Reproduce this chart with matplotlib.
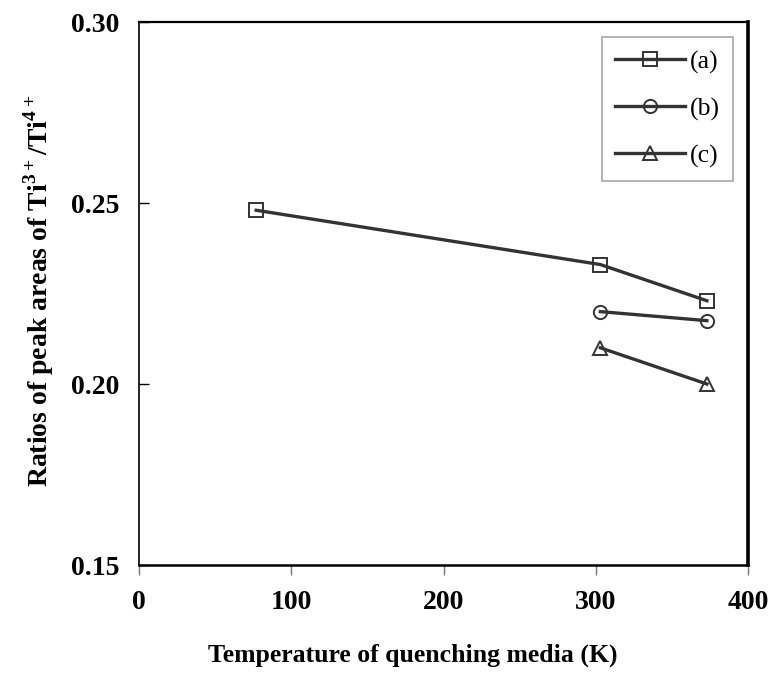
import numpy as np
import matplotlib
matplotlib.use("Agg")
import matplotlib.pyplot as plt

plt.rcParams['font.family'] = ['Liberation Serif', 'DejaVu Serif']
plt.rcParams['mathtext.fontset'] = 'custom'
plt.rcParams['mathtext.rm'] = 'Liberation Serif'
plt.rcParams['mathtext.bf'] = 'Liberation Serif:bold'

# data
temp_a = [77, 303, 373]
ratio_a = [0.248, 0.233, 0.223]
temp_b = [303, 373]
ratio_b = [0.220, 0.2175]
temp_c = [303, 373]
ratio_c = [0.210, 0.200]
labels = ["(a)", "(b)", "(c)"]
markers = ["s", "o", "^"]

fig = plt.figure(figsize=(7.73, 6.77), dpi=100)
ax = fig.add_axes([0.1798, 0.1654, 0.7879, 0.8021])

col = "#333333"
for xs, ys, lab, m in zip([temp_a, temp_b, temp_c], [ratio_a, ratio_b, ratio_c], labels, markers):
    ax.plot(xs, ys, color=col, lw=2.4, marker=m, ms=9.5, mfc="none",
            mec=col, mew=1.4, label=lab)

ax.set_xlim(0, 400)
ax.set_ylim(0.15, 0.30)
ax.set_xticks([0, 100, 200, 300, 400])
ax.set_yticks([0.15, 0.20, 0.25, 0.30])
ax.set_yticklabels(["0.15", "0.20", "0.25", "0.30"])

ax.tick_params(axis="x", direction="out", length=7, width=1, pad=11,
               labelsize=20, color="#777777")
ax.tick_params(axis="y", direction="in", length=7, width=1, pad=14,
               labelsize=20)
for t in ax.get_xticklabels() + ax.get_yticklabels():
    t.set_fontweight("bold")

ax.spines["left"].set_linewidth(1.2)
ax.spines["top"].set_linewidth(1.6)
ax.spines["bottom"].set_linewidth(1.8)
ax.spines["right"].set_linewidth(2.6)

ax.set_xlabel("Temperature of quenching media (K)", fontsize=18.5, fontweight="bold")
ax.xaxis.set_label_coords(0.45, -0.145)
ax.set_ylabel(r"Ratios of peak areas of Ti$^{\mathbf{3+}}$/Ti$^{\mathbf{4+}}$",
              fontsize=20, fontweight="bold")
ax.yaxis.set_label_coords(-0.136, 0.505)

leg = ax.legend(loc="upper right", fontsize=18.5, frameon=True, fancybox=False,
                edgecolor="#999999", handlelength=2.7, labelspacing=0.92,
                handletextpad=0.2, borderaxespad=0.6, borderpad=0.5)
leg.get_frame().set_linewidth(1.3)

fig.savefig("out.png", dpi=100)
